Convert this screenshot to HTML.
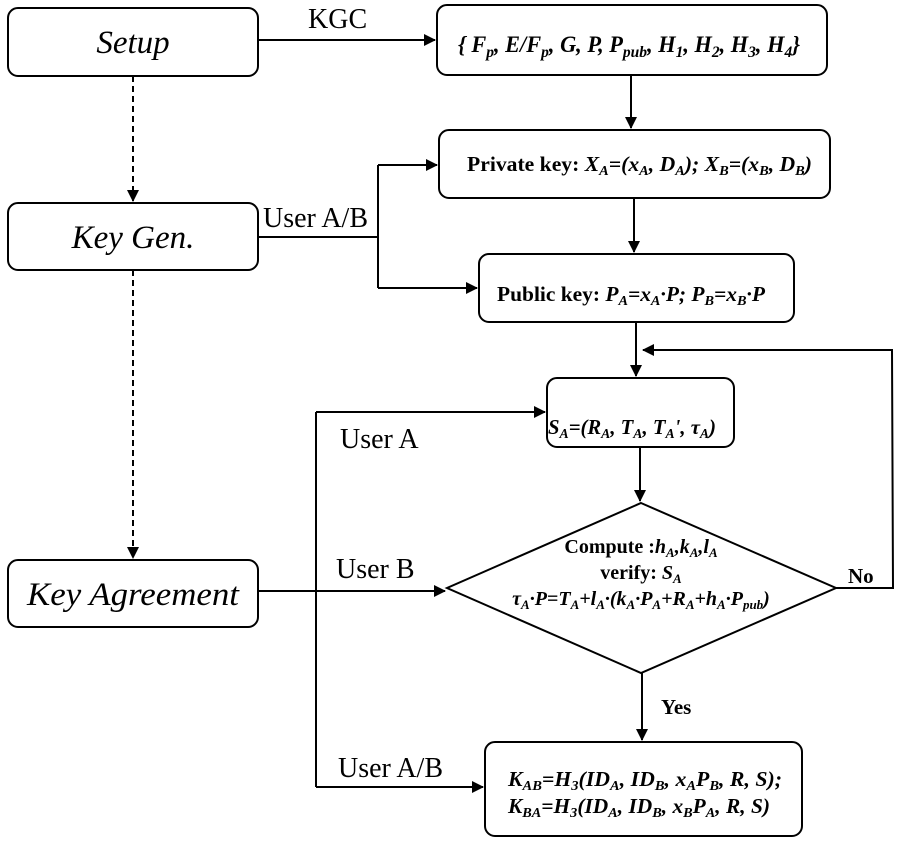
<!DOCTYPE html>
<html><head><style>
body{margin:0;background:#fff;}
svg{font-family:"Liberation Serif",serif;}
</style></head><body>
<svg width="900" height="842" viewBox="0 0 900 842" xmlns="http://www.w3.org/2000/svg">
<defs><marker id="a" markerWidth="12" markerHeight="12" refX="11" refY="6" orient="auto" markerUnits="userSpaceOnUse"><path d="M0,0 L12,6 L0,12 z" fill="#000"/></marker></defs>
<g fill="none" stroke="#000" stroke-width="2">
<rect x="8" y="8" width="250" height="68" rx="10"/>
<rect x="8" y="203" width="250" height="67" rx="10"/>
<rect x="8" y="560" width="250" height="67" rx="10"/>
<rect x="437" y="5" width="390" height="70" rx="10"/>
<rect x="439" y="130" width="391" height="68" rx="10"/>
<rect x="479" y="254" width="315" height="68" rx="10"/>
<rect x="547" y="378" width="187" height="69" rx="10"/>
<path d="M641,503 L836,588 L641,673 L447,588 Z"/>
<rect x="485" y="742" width="317" height="94" rx="10"/>
<line x1="258" y1="40" x2="435" y2="40" marker-end="url(#a)"/>
<line x1="631" y1="75" x2="631" y2="128" marker-end="url(#a)"/>
<line x1="634" y1="198" x2="634" y2="252" marker-end="url(#a)"/>
<line x1="636" y1="322" x2="636" y2="376" marker-end="url(#a)"/>
<line x1="640" y1="447" x2="640" y2="501" marker-end="url(#a)"/>
<line x1="642" y1="673" x2="642" y2="740" marker-end="url(#a)"/>
<polyline points="836,588 893,588 892,350 643,350" marker-end="url(#a)"/>
<polyline points="258,237 378,237"/>
<line x1="378" y1="165" x2="378" y2="288"/>
<line x1="378" y1="165" x2="437" y2="165" marker-end="url(#a)"/>
<line x1="378" y1="288" x2="477" y2="288" marker-end="url(#a)"/>
<line x1="258" y1="591" x2="445" y2="591" marker-end="url(#a)"/>
<line x1="316" y1="412" x2="316" y2="787"/>
<line x1="316" y1="412" x2="545" y2="412" marker-end="url(#a)"/>
<line x1="316" y1="787" x2="483" y2="787" marker-end="url(#a)"/>
<line x1="133" y1="76" x2="133" y2="201" stroke-dasharray="6,4" marker-end="url(#a)"/>
<line x1="133" y1="270" x2="133" y2="558" stroke-dasharray="6,4" marker-end="url(#a)"/>
</g>
<g font-style="italic" text-anchor="middle">
<text x="133" y="53" font-size="33">Setup</text>
<text x="133" y="248" font-size="33">Key Gen.</text>
<text x="133" y="605" font-size="33" textLength="212" lengthAdjust="spacingAndGlyphs">Key Agreement</text>
</g>
<g font-size="28">
<text x="308" y="28">KGC</text>
<text x="263" y="227">User A/B</text>
<text x="340" y="448">User A</text>
<text x="336" y="578">User B</text>
<text x="338" y="777">User A/B</text>
</g>
<g font-size="21" font-weight="bold">
<text x="848" y="583">No</text>
<text x="661" y="714">Yes</text>
</g>
<g font-size="23" font-weight="bold" font-style="italic">
<text x="458" y="52" textLength="342" lengthAdjust="spacingAndGlyphs">{ F<tspan font-size="16" dy="5">p</tspan><tspan dy="-5">, E/F</tspan><tspan font-size="16" dy="5">p</tspan><tspan dy="-5">, G, P, P</tspan><tspan font-size="16" dy="5">pub</tspan><tspan dy="-5">, H</tspan><tspan font-size="16" dy="5">1</tspan><tspan dy="-5">, H</tspan><tspan font-size="16" dy="5">2</tspan><tspan dy="-5">, H</tspan><tspan font-size="16" dy="5">3</tspan><tspan dy="-5">, H</tspan><tspan font-size="16" dy="5">4</tspan><tspan dy="-5">}</tspan></text>
</g>
<g font-size="21" font-weight="bold">
<text x="467" y="171" textLength="345" lengthAdjust="spacingAndGlyphs">Private key: <tspan font-style="italic">X<tspan font-size="14" dy="4">A</tspan><tspan dy="-4">=(x</tspan><tspan font-size="14" dy="4">A</tspan><tspan dy="-4">, D</tspan><tspan font-size="14" dy="4">A</tspan><tspan dy="-4">); X</tspan><tspan font-size="14" dy="4">B</tspan><tspan dy="-4">=(x</tspan><tspan font-size="14" dy="4">B</tspan><tspan dy="-4">, D</tspan><tspan font-size="14" dy="4">B</tspan><tspan dy="-4">)</tspan></tspan></text>
<text x="497" y="301" textLength="268" lengthAdjust="spacingAndGlyphs">Public key: <tspan font-style="italic">P<tspan font-size="14" dy="4">A</tspan><tspan dy="-4">=x</tspan><tspan font-size="14" dy="4">A</tspan><tspan dy="-4">·P; P</tspan><tspan font-size="14" dy="4">B</tspan><tspan dy="-4">=x</tspan><tspan font-size="14" dy="4">B</tspan><tspan dy="-4">·P</tspan></tspan></text>
<text x="548" y="434" font-style="italic" textLength="168" lengthAdjust="spacingAndGlyphs">S<tspan font-size="14" dy="4">A</tspan><tspan dy="-4">=(R</tspan><tspan font-size="14" dy="4">A</tspan><tspan dy="-4">, T</tspan><tspan font-size="14" dy="4">A</tspan><tspan dy="-4">, T</tspan><tspan font-size="14" dy="4">A</tspan><tspan dy="-4">', τ</tspan><tspan font-size="14" dy="4">A</tspan><tspan dy="-4">)</tspan></text>
<text x="641" y="553" text-anchor="middle" font-size="20">Compute :<tspan font-style="italic">h<tspan font-size="13" dy="4">A</tspan><tspan dy="-4">,k</tspan><tspan font-size="13" dy="4">A</tspan><tspan dy="-4">,l</tspan><tspan font-size="13" dy="4">A</tspan></tspan></text>
<text x="641" y="579" text-anchor="middle" font-size="20">verify: <tspan font-style="italic">S<tspan font-size="13" dy="4">A</tspan></tspan></text>
<text x="641" y="605" text-anchor="middle" font-style="italic" font-size="20">τ<tspan font-size="13" dy="4">A</tspan><tspan dy="-4">·P=T</tspan><tspan font-size="13" dy="4">A</tspan><tspan dy="-4">+l</tspan><tspan font-size="13" dy="4">A</tspan><tspan dy="-4">·(k</tspan><tspan font-size="13" dy="4">A</tspan><tspan dy="-4">·P</tspan><tspan font-size="13" dy="4">A</tspan><tspan dy="-4">+R</tspan><tspan font-size="13" dy="4">A</tspan><tspan dy="-4">+h</tspan><tspan font-size="13" dy="4">A</tspan><tspan dy="-4">·P</tspan><tspan font-size="13" dy="4">pub</tspan><tspan dy="-4">)</tspan></text>
<text x="508" y="786" font-style="italic" textLength="274" lengthAdjust="spacingAndGlyphs">K<tspan font-size="14" dy="4">AB</tspan><tspan dy="-4">=H</tspan><tspan font-size="14" dy="4">3</tspan><tspan dy="-4">(ID</tspan><tspan font-size="14" dy="4">A</tspan><tspan dy="-4">, ID</tspan><tspan font-size="14" dy="4">B</tspan><tspan dy="-4">, x</tspan><tspan font-size="14" dy="4">A</tspan><tspan dy="-4">P</tspan><tspan font-size="14" dy="4">B</tspan><tspan dy="-4">, R, S);</tspan></text>
<text x="508" y="813" font-style="italic" textLength="262" lengthAdjust="spacingAndGlyphs">K<tspan font-size="14" dy="4">BA</tspan><tspan dy="-4">=H</tspan><tspan font-size="14" dy="4">3</tspan><tspan dy="-4">(ID</tspan><tspan font-size="14" dy="4">A</tspan><tspan dy="-4">, ID</tspan><tspan font-size="14" dy="4">B</tspan><tspan dy="-4">, x</tspan><tspan font-size="14" dy="4">B</tspan><tspan dy="-4">P</tspan><tspan font-size="14" dy="4">A</tspan><tspan dy="-4">, R, S)</tspan></text>
</g>
</svg>
</body></html>
